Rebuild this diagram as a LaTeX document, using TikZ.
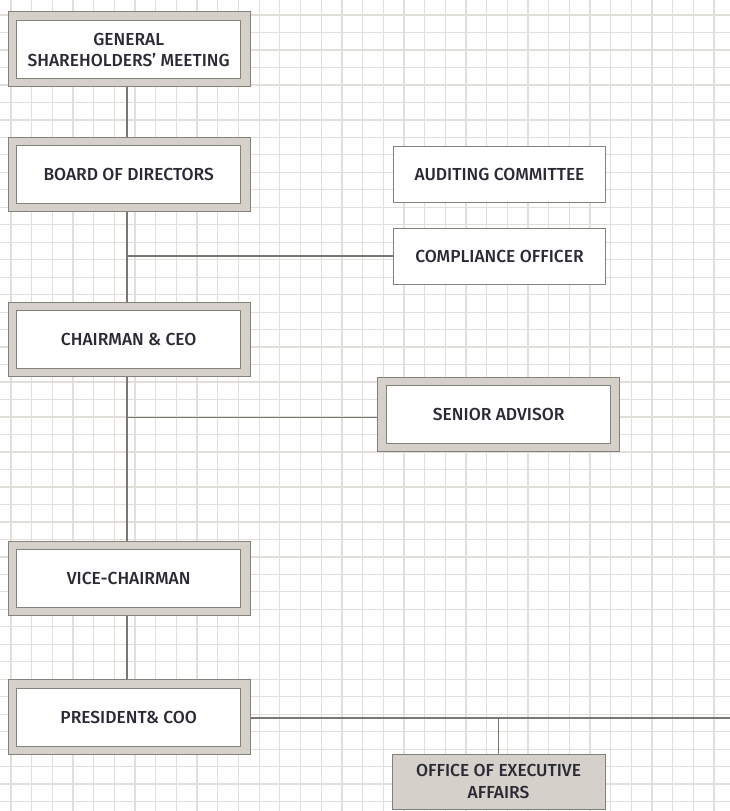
\documentclass[tikz,border=0pt]{standalone}
\usepackage{fontspec}
\setmainfont{Fira Sans Medium}
\definecolor{gridc}{RGB}{226,222,218}
\definecolor{boxfill}{RGB}{213,208,202}
\definecolor{boxline}{RGB}{130,130,122}
\definecolor{conn}{RGB}{120,120,112}
\definecolor{txt}{RGB}{42,42,52}
\tikzset{
  gridline/.style={draw=gridc, line width=1.3pt},
  outerbox/.style={draw=boxline, fill=boxfill, line width=1pt, minimum width=242pt, minimum height=74.4pt, inner sep=0pt},
  innerbox/.style={draw=boxline, fill=white, line width=1pt, minimum width=224pt, minimum height=58pt, inner sep=0pt, align=center, text=txt, font=\fontsize{17.4}{21}\selectfont},
  plainbox/.style={draw=boxline, fill=white, line width=1pt, minimum width=212pt, minimum height=56pt, inner sep=0pt, align=center, text=txt, font=\fontsize{17.4}{21}\selectfont},
  shadedbox/.style={draw=boxline, fill=boxfill, line width=1pt, minimum width=213pt, minimum height=55pt, inner sep=0pt, align=center, text=txt, font=\fontsize{17.4}{22}\selectfont},
  connector/.style={draw=conn, line width=1.3pt}
}
\begin{document}
\begin{tikzpicture}[x=1pt,y=-1pt]
\useasboundingbox (0,0) rectangle (730,811);
\fill[white] (0,0) rectangle (730,811);
% grid
\foreach \k in {0,...,34} \draw[gridline] ({11+20.68*\k},0) -- ({11+20.68*\k},811);
\foreach \k in {0,...,45} \draw[gridline] (0,{15+17.48*\k}) -- (730,{15+17.48*\k});
% trunk coordinate
\coordinate (tr) at (127,0);
\coordinate (edge) at (730,718);
% main column
\node[outerbox] (gsm) at (129.2,49) {};
\node[innerbox] (gsmI) at (128.7,49.5) {GENERAL\\SHAREHOLDERS’ MEETING};
\node[outerbox] (bod) at (129.2,174.3) {};
\node[innerbox] (bodI) at (128.7,174.2) {BOARD OF DIRECTORS};
\node[outerbox] (chair) at (129.2,339.5) {};
\node[innerbox] (chairI) at (128.7,339.8) {CHAIRMAN \& CEO};
\node[outerbox] (vice) at (129.2,578.7) {};
\node[innerbox] (viceI) at (128.7,578.5) {VICE-CHAIRMAN};
\node[outerbox] (pres) at (129.2,717) {};
\node[innerbox] (presI) at (128.7,717.2) {PRESIDENT\& COO};
% right column
\node[plainbox] (aud) at (499.5,174) {AUDITING COMMITTEE};
\node[plainbox] (comp) at (499.5,256) {COMPLIANCE OFFICER};
\node[outerbox] (sen) at (498.3,414.5) {};
\node[innerbox] (senI) at (498.7,414.2) {SENIOR ADVISOR};
\node[shadedbox] (office) at (498.5,781.5) {OFFICE OF EXECUTIVE\\AFFAIRS};
% connectors
\draw[connector] (tr |- gsm.south) -- (tr |- bod.north);
\draw[connector] (tr |- bod.south) -- (tr |- chair.north);
\draw[connector] (tr |- chair.south) -- (tr |- vice.north);
\draw[connector] (tr |- vice.south) -- (tr |- pres.north);
\draw[connector] (tr |- comp.west) -- (comp.west);
\draw[connector] ([yshift=-3pt]tr |- sen.west) -- ([yshift=-3pt]sen.west);
\draw[connector] (pres.east |- edge) -- (edge);
\draw[connector] (office.north |- edge) -- (office.north);
\end{tikzpicture}
\end{document}
